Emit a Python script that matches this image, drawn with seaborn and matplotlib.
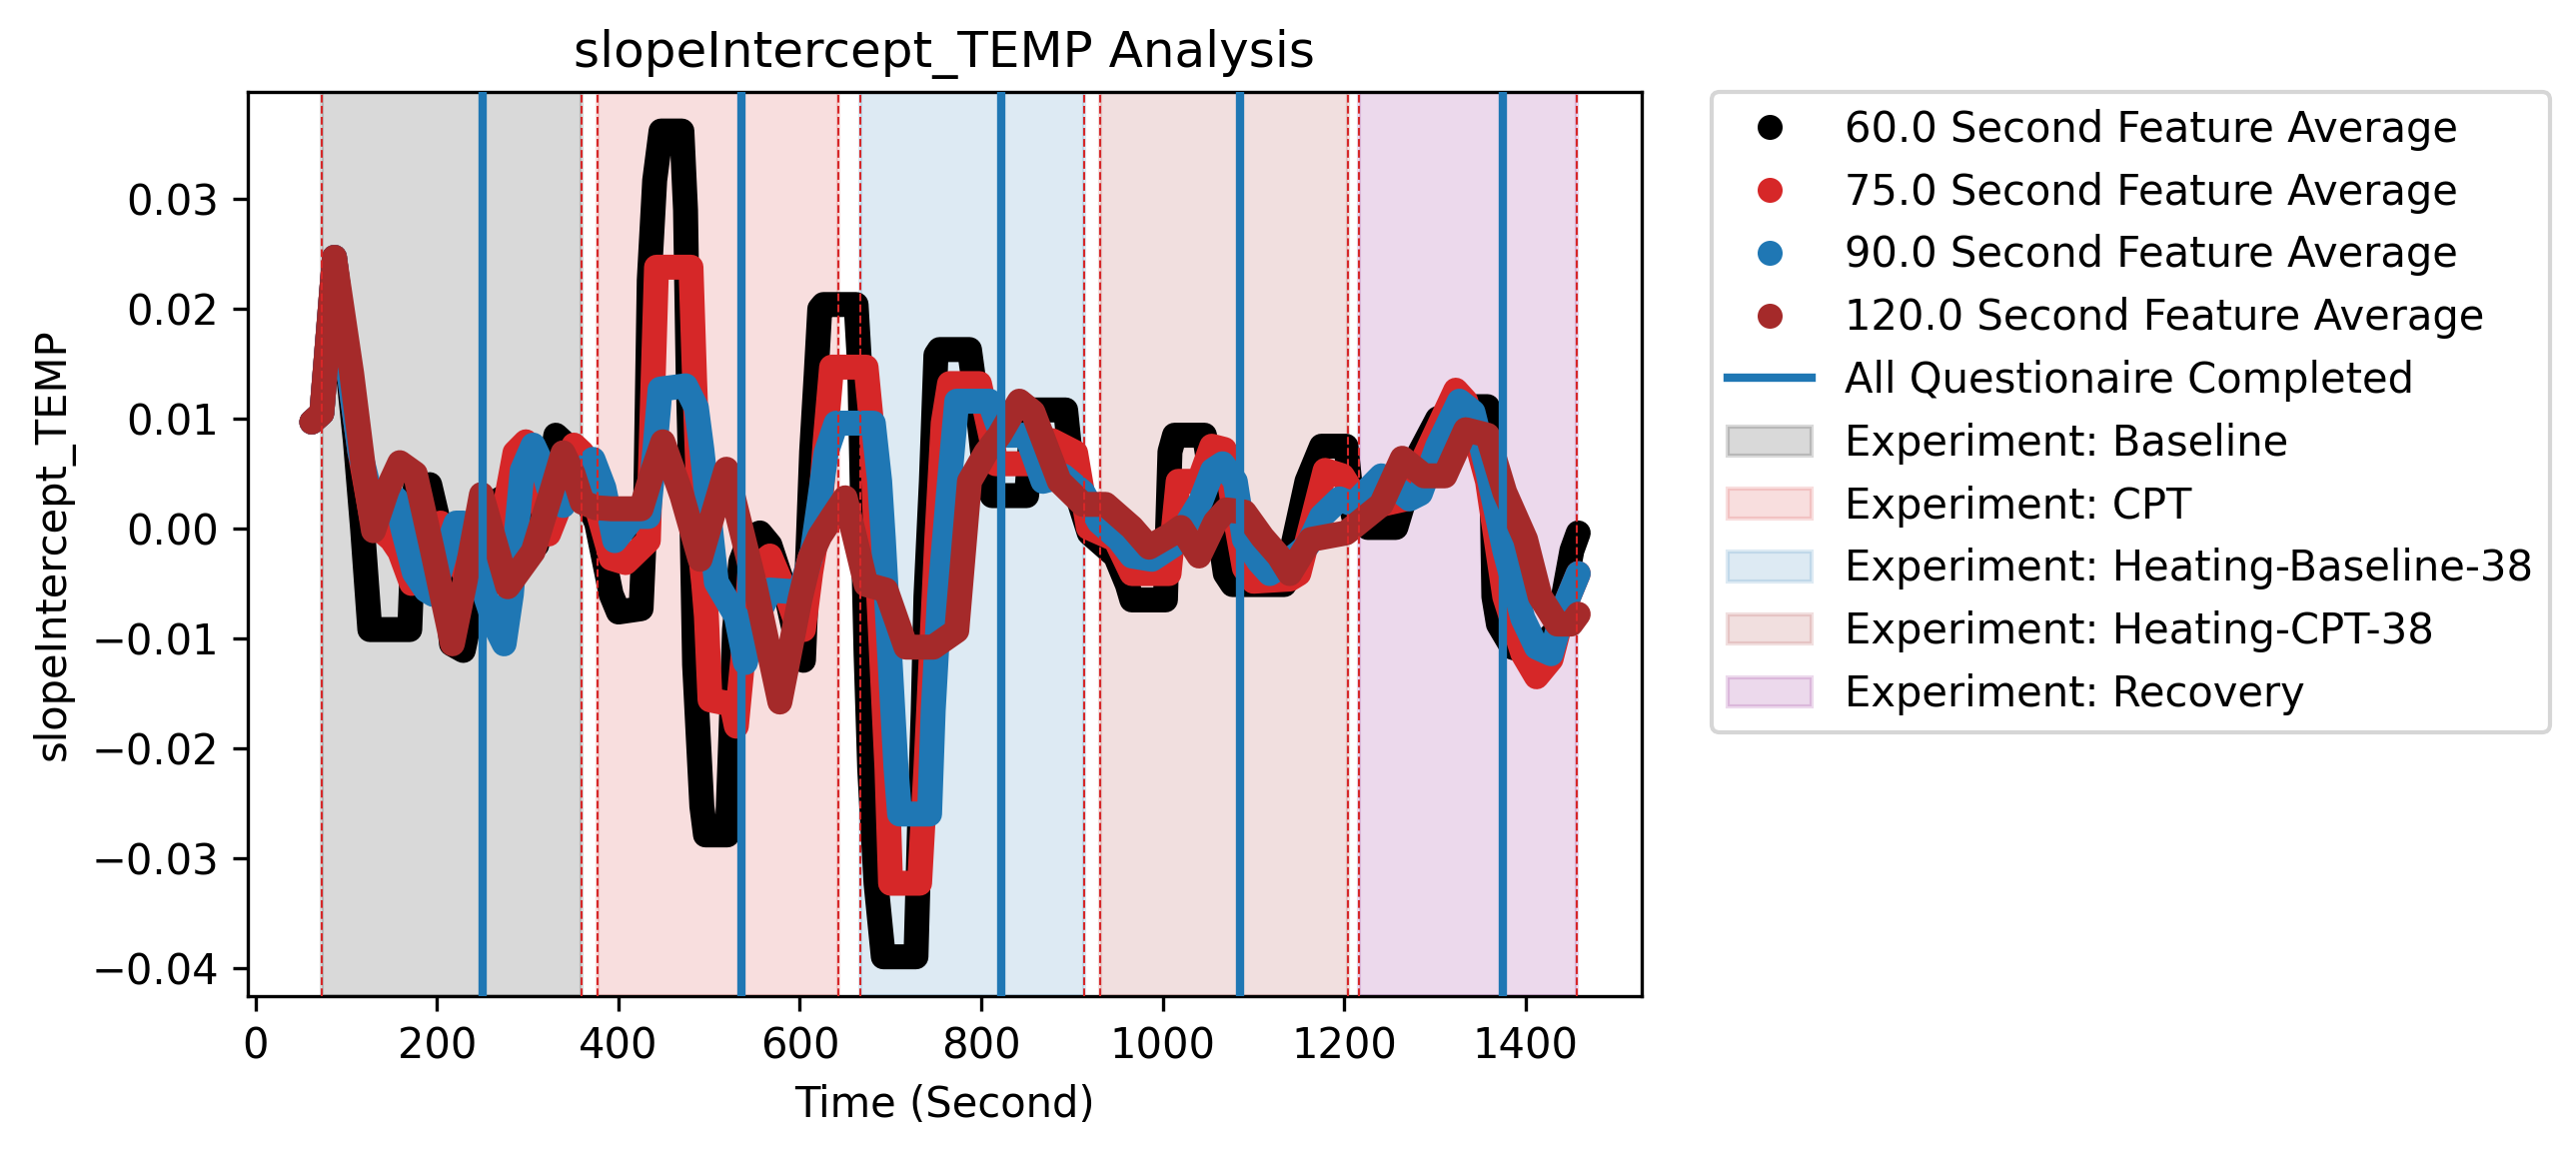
import numpy as np
import pandas as pd
import seaborn as sns
import matplotlib
matplotlib.use("Agg")
import matplotlib.pyplot as plt
from matplotlib.lines import Line2D
from matplotlib.patches import Patch

# ---- values (time in s, feature value) ----
t_60 = [62, 73, 87, 100, 110, 118, 126, 150, 170, 176, 192, 204, 216, 229, 245, 262, 270, 280, 295, 310,
        322, 331, 343, 360, 376, 392, 400, 425, 430, 434, 440, 447, 470, 474, 477, 481, 484, 488, 492, 496,
        520, 524, 528, 535, 545, 556, 567, 585, 600, 604, 608, 613, 618, 622, 626, 662, 666, 670, 673, 677,
        684, 692, 728, 732, 736, 739, 745, 750, 754, 787, 798, 805, 812, 850, 857, 893, 901, 919, 948, 961,
        966, 1003, 1008, 1013, 1046, 1054, 1069, 1077, 1134, 1159, 1175, 1202, 1210, 1226, 1257, 1280, 1303,
        1334, 1358, 1362, 1365, 1370, 1385, 1408, 1435, 1451, 1458]
v_60 = [0.0097, 0.0105, 0.0247, 0.0160, 0.0080, 0.0000, -0.0092, -0.0092, -0.0092, 0.0037, 0.0040, -0.0002,
        -0.0105, -0.0111, -0.0047, 0.0010, 0.0027, 0.0015, -0.0020, -0.0015, 0.0040, 0.0085, 0.0076, 0.0037,
        0.0005, -0.0060, -0.0076, -0.0073, 0.0020, 0.0226, 0.0317, 0.0362, 0.0362, 0.0290, 0.0135, 0.0010,
        -0.0124, -0.0189, -0.0253, -0.0279, -0.0279, -0.0189, -0.0092, -0.0030, -0.0008, -0.0004, -0.0015,
        -0.0060, -0.0116, -0.0120, -0.0040, 0.0070, 0.0140, 0.0200, 0.0204, 0.0204, 0.0147, -0.0009, -0.0114,
        -0.0219, -0.0323, -0.0390, -0.0390, -0.0270, -0.0166, -0.0062, 0.0043, 0.0158, 0.0163, 0.0163, 0.0096,
        0.0043, 0.0030, 0.0030, 0.0108, 0.0108, 0.0043, -0.0004, -0.0025, -0.0051, -0.0065, -0.0065, 0.0070,
        0.0085, 0.0085, 0.0043, -0.0041, -0.0051, -0.0051, 0.0043, 0.0075, 0.0075, 0.0012, 0.0001, 0.0001,
        0.0064, 0.0100, 0.0111, 0.0111, 0.0085, -0.0062, -0.0087, -0.0108, -0.0114, -0.0092, -0.0020, -0.0004]

t_75 = [62, 73, 87, 100, 115, 128, 139, 150, 159, 172, 185, 195, 204, 215, 230, 250, 265, 275, 286, 298,
        310, 323, 335, 351, 360, 376, 392, 408, 433, 437, 442, 480, 484, 488, 490, 494, 497, 501, 525, 530,
        537, 545, 567, 585, 596, 604, 612, 622, 628, 635, 673, 679, 684, 690, 696, 700, 732, 739, 745, 751,
        758, 765, 798, 813, 816, 853, 865, 878, 904, 918, 948, 966, 1007, 1017, 1040, 1054, 1068, 1080, 1090,
        1100, 1140, 1150, 1163, 1179, 1198, 1210, 1241, 1268, 1288, 1323, 1334, 1358, 1377, 1397, 1412, 1428,
        1443, 1458]
v_75 = [0.0097, 0.0105, 0.0247, 0.0160, 0.0070, 0.0010, -0.0002, -0.0010, -0.0021, -0.0050, -0.0035, -0.0010,
        0.0005, -0.0020, -0.0040, -0.0030, -0.0010, 0.0020, 0.0069, 0.0079, 0.0040, -0.0005, 0.0020, 0.0076,
        0.0069, 0.0020, -0.0027, -0.0031, -0.0011, 0.0100, 0.0238, 0.0238, 0.0135, 0.0044, -0.0019, -0.0050,
        -0.0080, -0.0156, -0.0160, -0.0180, -0.0120, -0.0040, -0.0025, -0.0060, -0.0085, -0.0092, -0.0040,
        0.0011, 0.0080, 0.0147, 0.0147, 0.0096, -0.0009, -0.0114, -0.0218, -0.0323, -0.0323, -0.0218, -0.0114,
        -0.0009, 0.0096, 0.0132, 0.0132, 0.0075, 0.0059, 0.0059, 0.0075, 0.0080, 0.0069, 0.0001, -0.0010,
        -0.0041, -0.0041, 0.0043, 0.0043, 0.0075, 0.0072, 0.0010, -0.0036, -0.0048, -0.0046, -0.0041, 0.0001,
        0.0053, 0.0048, 0.0032, 0.0022, 0.0027, 0.0064, 0.0126, 0.0116, 0.0043, -0.0062, -0.0114, -0.0135,
        -0.0119, -0.0071, -0.0041]

t_90 = [62, 73, 87, 100, 115, 130, 145, 155, 163, 175, 188, 196, 210, 221, 229, 240, 253, 265, 274, 282,
        288, 294, 306, 315, 323, 339, 351, 372, 384, 396, 417, 433, 440, 446, 474, 486, 492, 508, 530, 540,
        548, 567, 600, 614, 621, 629, 640, 681, 688, 692, 699, 706, 710, 743, 747, 754, 765, 773, 809, 818,
        828, 850, 868, 890, 912, 930, 952, 966, 988, 1012, 1028, 1042, 1055, 1066, 1080, 1090, 1106, 1118,
        1133, 1150, 1160, 1175, 1195, 1210, 1241, 1272, 1284, 1303, 1327, 1342, 1358, 1377, 1397, 1412, 1428,
        1443, 1458]
v_90 = [0.0097, 0.0105, 0.0247, 0.0160, 0.0070, 0.0020, 0.0030, 0.0027, -0.0002, -0.0040, -0.0056, -0.0060,
        -0.0020, 0.0005, 0.0005, -0.0020, -0.0060, -0.0090, -0.0105, -0.0060, 0.0000, 0.0053, 0.0076, 0.0060,
        0.0037, 0.0021, 0.0044, 0.0063, 0.0037, -0.0011, 0.0011, 0.0011, 0.0070, 0.0127, 0.0130, 0.0110,
        0.0072, -0.0049, -0.0080, -0.0122, -0.0090, -0.0056, -0.0058, -0.0020, 0.0021, 0.0069, 0.0096, 0.0096,
        0.0043, -0.0009, -0.0114, -0.0218, -0.0260, -0.0260, -0.0166, -0.0062, 0.0043, 0.0116, 0.0116, 0.0095,
        0.0085, 0.0085, 0.0043, 0.0048, 0.0033, 0.0006, -0.0010, -0.0025, -0.0028, -0.0015, 0.0006, 0.0025,
        0.0053, 0.0059, 0.0043, -0.0010, -0.0030, -0.0041, -0.0033, -0.0022, -0.0015, 0.0011, 0.0027, 0.0022,
        0.0048, 0.0027, 0.0032, 0.0075, 0.0116, 0.0106, 0.0053, -0.0020, -0.0082, -0.0108, -0.0114, -0.0071,
        -0.0041]

t_120 = [62, 73, 87, 106, 119, 130, 145, 159, 176, 195, 217, 233, 249, 263, 278, 306, 325, 339, 350, 360,
         375, 392, 425, 437, 449, 470, 490, 505, 519, 550, 578, 600, 611, 622, 637, 650, 673, 695, 717, 747,
         773, 787, 805, 820, 842, 857, 886, 912, 937, 966, 985, 1010, 1020, 1040, 1058, 1070, 1090, 1110,
         1128, 1140, 1163, 1202, 1241, 1264, 1288, 1311, 1334, 1358, 1377, 1400, 1416, 1435, 1450, 1458]
v_120 = [0.0097, 0.0105, 0.0247, 0.0141, 0.0055, -0.0002, 0.0035, 0.0060, 0.0050, -0.0020, -0.0105, -0.0040,
         0.0031, -0.0010, -0.0053, -0.0021, 0.0030, 0.0069, 0.0050, 0.0024, 0.0019, 0.0018, 0.0018, 0.0050,
         0.0079, 0.0030, -0.0028, 0.0015, 0.0054, -0.0050, -0.0158, -0.0065, -0.0027, -0.0007, 0.0012, 0.0028,
         -0.0051, -0.0056, -0.0108, -0.0108, -0.0093, 0.0043, 0.0069, 0.0085, 0.0116, 0.0106, 0.0043, 0.0022,
         0.0022, 0.0001, -0.0017, -0.0005, 0.0001, -0.0025, 0.0006, 0.0017, 0.0015, -0.0008, -0.0025, -0.0041,
         -0.0010, -0.0004, 0.0022, 0.0064, 0.0048, 0.0048, 0.0090, 0.0085, 0.0033, -0.0010, -0.0062, -0.0087,
         -0.0087, -0.0078]

series_labels = ["60.0 Second Feature Average", "75.0 Second Feature Average",
                 "90.0 Second Feature Average", "120.0 Second Feature Average"]
series_colors = ["black", "tab:red", "tab:blue", "brown"]

# experiment phases (start, end) in seconds
phase_names = ["Baseline", "CPT", "Heating-Baseline-38", "Heating-CPT-38", "Recovery"]
phase_start = [72.7, 377, 667, 931, 1216]
phase_end = [359.7, 642, 913, 1204, 1456]
phase_colors = ["black", "tab:red", "tab:blue", "brown", "purple"]

# questionnaire completion times
quest_times = [250, 536, 822, 1085, 1375]

frames = []
for lab, tt, vv in zip(series_labels, [t_60, t_75, t_90, t_120], [v_60, v_75, v_90, v_120]):
    frames.append(pd.DataFrame({"Time": tt, "Value": vv, "Window": lab}))
df = pd.concat(frames, ignore_index=True)

fig = plt.figure(figsize=(2579 / 300, 1158 / 300), dpi=300)
ax = fig.add_axes([248 / 2579, (1158 - 997) / 1158, 1395 / 2579, 905 / 1158])

# dense dot trail drawn as a thick round-jointed line
for lab, col in zip(series_labels, series_colors):
    sub = df[df["Window"] == lab]
    sns.lineplot(data=sub, x="Time", y="Value", color=col, linewidth=6,
                 estimator=None, sort=False, ax=ax, zorder=2,
                 solid_capstyle="round", solid_joinstyle="round")

for s, e, col in zip(phase_start, phase_end, phase_colors):
    ax.axvspan(s, e, color=col, alpha=0.15, zorder=0)
    ax.axvline(s, color="tab:red", linestyle="--", linewidth=0.5, zorder=3)
    ax.axvline(e, color="tab:red", linestyle="--", linewidth=0.5, zorder=3)

for q in quest_times:
    ax.axvline(q, color="tab:blue", linewidth=2, zorder=3)

ax.set_xlim(-8.5, 1528)
ax.set_ylim(-0.04258, 0.03976)
ax.set_title("slopeIntercept_TEMP Analysis")
ax.set_xlabel("Time (Second)")
ax.set_ylabel("slopeIntercept_TEMP")

handles = [Line2D([], [], marker="o", linestyle="none", color=c, markersize=5) for c in series_colors]
handles.append(Line2D([], [], color="tab:blue", linewidth=2))
handles += [Patch(facecolor=c, edgecolor=c, alpha=0.15) for c in phase_colors]
labels = series_labels + ["All Questionaire Completed"] + ["Experiment: " + p for p in phase_names]
ax.legend(handles, labels, bbox_to_anchor=(1.05, 1), loc="upper left", borderaxespad=0)

fig.savefig("out.png", dpi=300)
